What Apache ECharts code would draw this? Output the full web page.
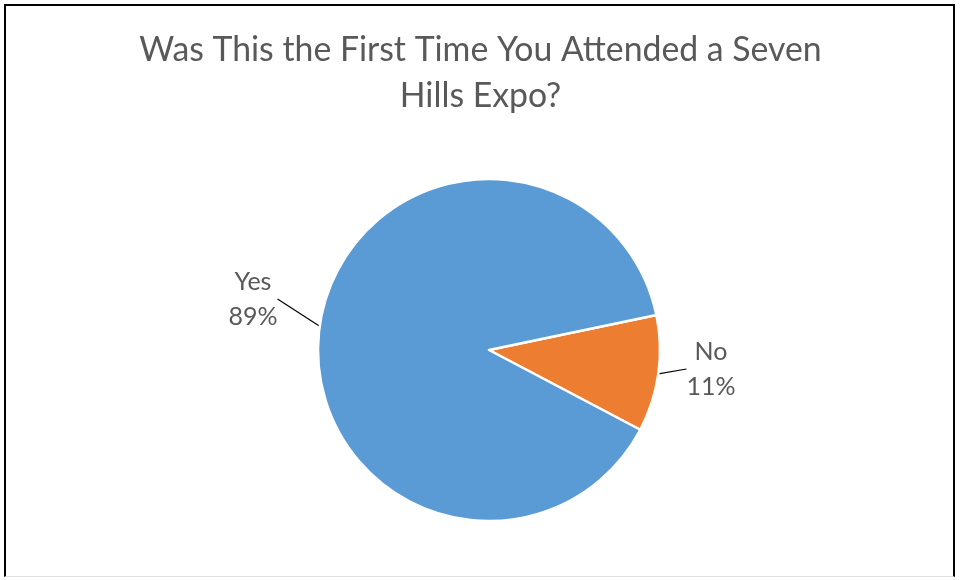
<!DOCTYPE html>
<html>
<head>
<meta charset="utf-8">
<style>
  html, body { margin: 0; padding: 0; background: #fff; }
  #frame {
    position: absolute; left: 4px; top: 4px; width: 951px; height: 573px;
    border-left: 2px solid #000; border-top: 2px solid #000; border-right: 2px solid #000;
    border-bottom: 1px solid #e0e0e0; box-sizing: border-box;
  }
  #chart { position: absolute; left: 0; top: 0; width: 961px; height: 580px; }
</style>
<script src="https://cdn.jsdelivr.net/npm/echarts@6/dist/echarts.min.js"></script>
</head>
<body>
<div id="frame"></div>
<div id="chart"></div>
<script>
// Survey answers and their share of respondents (percent)
const titleText = 'Was This the First Time You Attended a Seven\nHills Expo?';
const categories = ['No', 'Yes'];
const values = [11, 89];
const colors = ['#ED7D31', '#5B9BD5'];
// Where each answer's label block is centred
const labelSpots = { No: [711, 369], Yes: [253, 299] };

const chart = echarts.init(document.getElementById('chart'), null, { renderer: 'canvas' });
const font = 'Lato, "Open Sans", sans-serif';

chart.setOption({
  animation: false,
  title: {
    text: titleText,
    left: 'center',
    top: 22,
    textStyle: {
      fontFamily: font, fontSize: 33.8, fontWeight: 'normal',
      color: '#595959', lineHeight: 46
    }
  },
  series: [{
    type: 'pie',
    center: [489, 350],
    radius: [0, 171],
    startAngle: 11.8,
    clockwise: true,
    data: categories.map((c, i) => ({
      name: c, value: values[i], itemStyle: { color: colors[i] }
    })),
    itemStyle: { borderColor: '#fff', borderWidth: 2.5 },
    label: {
      show: true,
      formatter: '{b}\n{d}%',
      fontFamily: font, fontSize: 25, color: '#595959',
      lineHeight: 35, align: 'center'
    },
    labelLine: {
      show: true, length: 10, length2: 0,
      lineStyle: { color: '#000', width: 1.2 }
    },
    labelLayout: function (p) {
      const spot = labelSpots[categories[p.dataIndex]];
      return { x: spot[0], y: spot[1], align: 'center', verticalAlign: 'middle' };
    },
    emphasis: { disabled: true }
  }]
});
</script>
</body>
</html>
